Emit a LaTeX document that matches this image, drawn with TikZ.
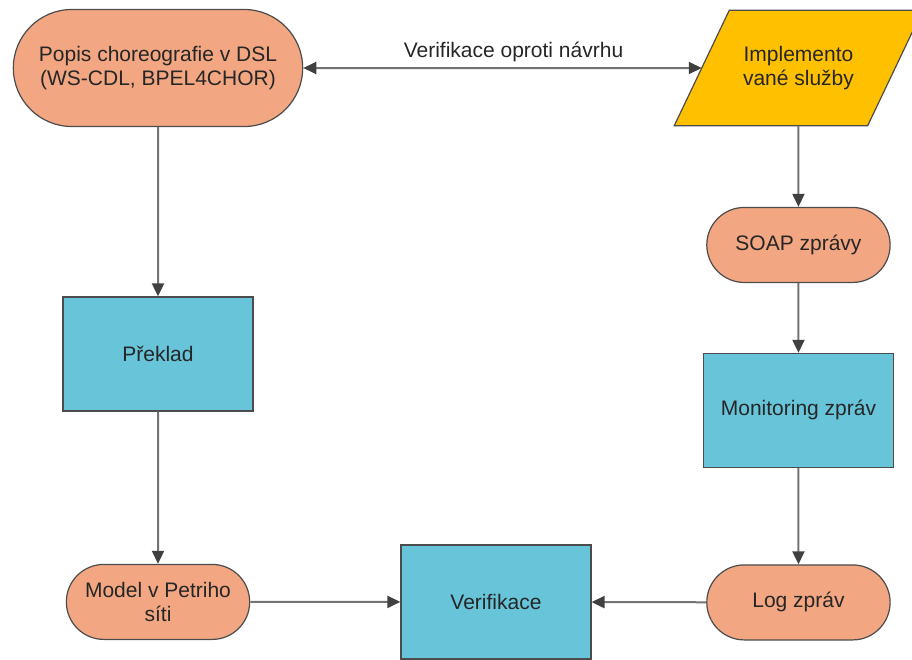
\documentclass[tikz,border=0pt]{standalone}
\usepackage{fontspec}
\setmainfont{Liberation Sans}
\usepackage{tikz}
\usetikzlibrary{shapes.misc,arrows.meta,positioning}
\definecolor{salmon}{HTML}{F2A782}
\definecolor{skyblue}{HTML}{67C4D9}
\definecolor{amber}{HTML}{FFC000}
\tikzset
{
    terminal/.style = {rounded rectangle, draw=black!70, fill=salmon, line width=1.2pt, align=center, minimum width=190pt, minimum height=75pt},
    process/.style  = {rectangle, draw=black!70, fill=skyblue, line width=1.2pt, align=center, minimum width=190pt, minimum height=114pt},
    data/.style     = {rectangle, align=center, inner sep=0pt, minimum width=193pt, minimum height=115pt},
    slanted/.style  = {draw=black!70, fill=amber, line width=1.2pt},
    arrow/.style    = {line width=2pt, draw=black!55, ->, >={Triangle[length=13pt, width=12pt, color=black!75]}}
}

\begin{document}
\begin{tikzpicture}[font=\fontsize{21}{24}\selectfont, text=black!85, node distance=1cm]
	\useasboundingbox (0,0) rectangle (912pt,-659pt);
	\node (popis) [terminal, minimum width=296pt, minimum height=117pt] at (158pt,-68pt) {Popis choreografie v DSL\\(WS-CDL, BPEL4CHOR)};
	\node (preklad) [process, below of=popis, yshift=-257.5pt] {Překlad};
	\node (model) [terminal, below of=preklad, yshift=-219.5pt] {Model v Petriho\\síti};
	\node (verif) [process, right of=model, xshift=309.5pt] {Verifikace};
	\node (impl) [data, right of=popis, xshift=612pt] {};
	\draw [slanted] ([xshift=-27.5pt]impl.south west) -- ([xshift=27.5pt]impl.north west) -- ([xshift=27.5pt]impl.north east) -- ([xshift=-27.5pt]impl.south east) -- cycle;
	\node (impltext) [align=center] at (impl) {Implemento\\vané služby};
	\node (soap) [terminal, below of=impl, yshift=-148.5pt] {SOAP zprávy};
	\node (monitor) [process, below of=soap, yshift=-137pt] {Monitoring zpráv};
	\node (log) [terminal, below of=monitor, yshift=-163.55pt] {Log zpráv};

	\draw [arrow, <->] (popis) -- node[above, xshift=11pt, inner sep=5pt] {Verifikace oproti návrhu} (impl);
	\draw [arrow] (popis) -- (preklad);
	\draw [arrow] (preklad) -- (model);
	\draw [arrow] (model) -- (verif);
	\draw [arrow] (impl) -- (soap);
	\draw [arrow] (soap) -- (monitor);
	\draw [arrow] (monitor) -- (log);
	\draw [arrow] (log) -- (verif);
\end{tikzpicture}
\end{document}
